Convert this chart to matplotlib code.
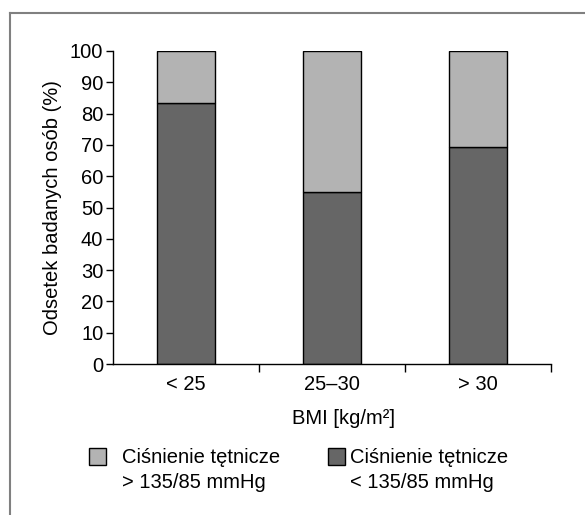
import matplotlib
matplotlib.use("Agg")
import matplotlib.pyplot as plt
from matplotlib.patches import Rectangle
from matplotlib.lines import Line2D
from matplotlib import font_manager

# BMI groups and share of people (%) with each blood pressure level
categories = ["< 25", "25\u201330", "> 30"]
low_bp = [83.3, 55.0, 69.2]       # < 135/85 mmHg
high_bp = [16.7, 45.0, 30.8]      # > 135/85 mmHg
yticks = list(range(0, 101, 10))

names = {f.name for f in font_manager.fontManager.ttflist}
family = ["Liberation Sans Narrow", "DejaVu Sans"] if "Liberation Sans Narrow" in names else ["Liberation Sans", "DejaVu Sans"]
plt.rcParams["font.family"] = family
fs = 14.5

dark = "#666666"
light = "#b3b3b3"

fig = plt.figure(figsize=(5.85, 5.15), dpi=100)
ax = fig.add_axes([113 / 585, 1 - 364 / 515, 438 / 585, 313 / 515])

x = list(range(len(categories)))
ax.bar(x, low_bp, width=0.4, color=dark, edgecolor="black", linewidth=1)
ax.bar(x, high_bp, bottom=low_bp, width=0.4, color=light, edgecolor="black", linewidth=1)

ax.set_xlim(-0.5, len(categories) - 0.5)
ax.set_ylim(0, 100)
ax.set_yticks(yticks)
ax.tick_params(axis="y", direction="out", length=5, width=1, labelsize=fs, pad=2)
# category boundaries carry the ticks, labels sit in the middle
ax.set_xticks([i + 0.5 for i in x])
ax.set_xticklabels([])
ax.set_xticks(x, minor=True)
ax.set_xticklabels(categories, minor=True)
ax.tick_params(axis="x", which="major", direction="out", length=6, width=1)
ax.tick_params(axis="x", which="minor", length=0, labelsize=fs, pad=8)
for s in ["top", "right"]:
    ax.spines[s].set_visible(False)
for s in ["left", "bottom"]:
    ax.spines[s].set_linewidth(1)

ax.set_ylabel("Odsetek badanych osób (%)", fontsize=fs, labelpad=6)
fig.text(344 / 585, 1 - 419 / 515, "BMI [kg/m²]", fontsize=fs, ha="center", va="center")

# legend drawn by hand, squares aligned with the first text line
def legend_item(x0, x_text, color, label):
    fig.patches.append(Rectangle((x0 / 585, 1 - 465 / 515), 17 / 585, 17 / 515,
                                 transform=fig.transFigure, facecolor=color,
                                 edgecolor="black", linewidth=1))
    fig.text(x_text / 585, 1 - 448 / 515, label, fontsize=fs, ha="left", va="top", linespacing=1.4)

legend_item(89, 122, light, "Ciśnienie tętnicze\n> 135/85 mmHg")
legend_item(328, 350, dark, "Ciśnienie tętnicze\n< 135/85 mmHg")

# frame lines along the top and left edge
fig.add_artist(Line2D([10 / 585, 1], [1 - 13 / 515] * 2, transform=fig.transFigure, color="#808080", linewidth=1.5))
fig.add_artist(Line2D([10 / 585] * 2, [0, 1 - 13 / 515], transform=fig.transFigure, color="#808080", linewidth=1.5))

fig.savefig("out.png", dpi=100)
